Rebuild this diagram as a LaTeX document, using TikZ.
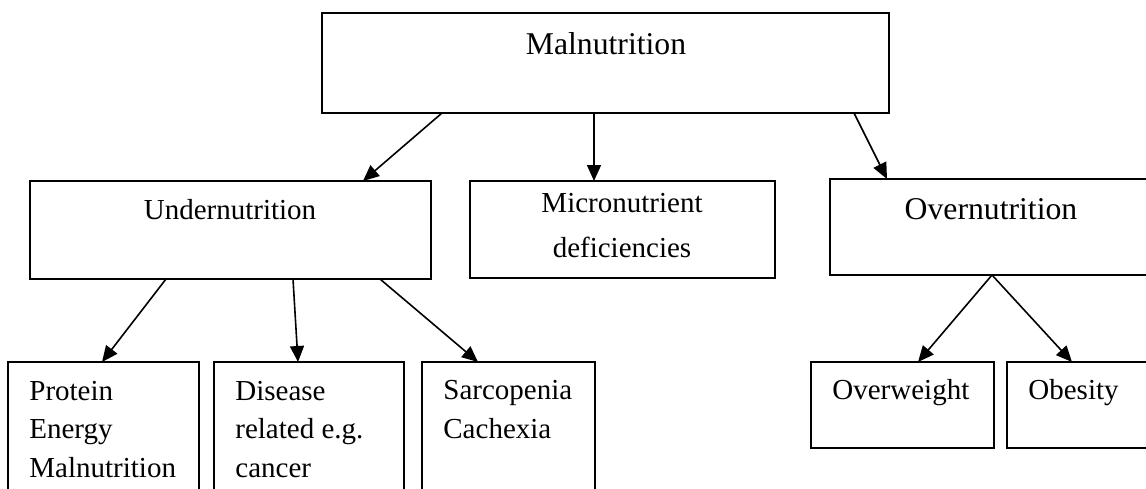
\documentclass[tikz,border=0pt]{standalone}
\usepackage{fontspec}
\setmainfont{Liberation Serif}
\usetikzlibrary{arrows.meta,fit}
\tikzset{
  box/.style={draw=black, line width=0.6pt, inner sep=0pt, outer sep=0pt},
  conn/.style={draw=black, line width=0.8pt, -{Triangle[length=8pt,width=7pt]}},
  big/.style={inner sep=0pt, anchor=base, font=\fontsize{15.85}{19}\selectfont},
  mid/.style={inner sep=0pt, anchor=base, font=\fontsize{14.5}{22.5}\selectfont, align=center},
  small/.style={inner sep=0pt, anchor=base west, font=\fontsize{14.5}{19.25}\selectfont, align=left},
}
\begin{document}
\begin{tikzpicture}[x=0.5pt,y=-0.5pt]
\useasboundingbox (0,0) rectangle (1146,488);
% boxes
\node[box, fit={(322,13) (889,113)}] (mal) {};
\node[box, fit={(30,181) (431,279)}] (und) {};
\node[box, fit={(470,181) (775,278)}] (mic) {};
\node[box, fit={(830,179) (1152,275)}] (ovn) {};
\node[box, fit={(8,362) (199,494)}] (pem) {};
\node[box, fit={(214,362) (404,494)}] (dis) {};
\node[box, fit={(422,362) (595,494)}] (sar) {};
\node[box, fit={(811,362) (994,448)}] (ovw) {};
\node[box, fit={(1007,362) (1162,448)}] (obe) {};
% texts (multi-line nodes are placed by the baseline of their last line)
\node[big] (tmal) at (606,54) {Malnutrition};
\node[mid] (tund) at (230,219) {Undernutrition};
\node[mid] (tmic) at (622,257) {Micronutrient\\deficiencies};
\node[big] (tovn) at (991,219) {Overnutrition};
\node[small] (tpem) at (29,477) {Protein\\Energy\\Malnutrition};
\node[small] (tdis) at (235,477) {Disease\\related e.g.\\cancer};
\node[small] (tsar) at (443,438) {Sarcopenia\\Cachexia};
\node[small] (tovw) at (832,399) {Overweight};
\node[small] (tobe) at (1028,399) {Obesity};
% connectors
\draw[conn] ([xshift=60pt]mal.south west) -- ([xshift=166.5pt]und.north west);
\draw[conn] ([xshift=136pt]mal.south west) -- ([xshift=62pt]mic.north west);
\draw[conn] ([xshift=266pt]mal.south west) -- ([xshift=28.5pt]ovn.north west);
\draw[conn] ([xshift=68pt]und.south west) -- ([xshift=47pt]pem.north west);
\draw[conn] ([xshift=131.5pt]und.south west) -- ([xshift=42pt]dis.north west);
\draw[conn] ([xshift=175pt]und.south west) -- ([xshift=28pt]sar.north west);
\draw[conn] ([xshift=81pt]ovn.south west) -- ([xshift=53.5pt]ovw.north west);
\draw[conn] ([xshift=81pt]ovn.south west) -- ([xshift=32.5pt]obe.north west);
\end{tikzpicture}
\end{document}
